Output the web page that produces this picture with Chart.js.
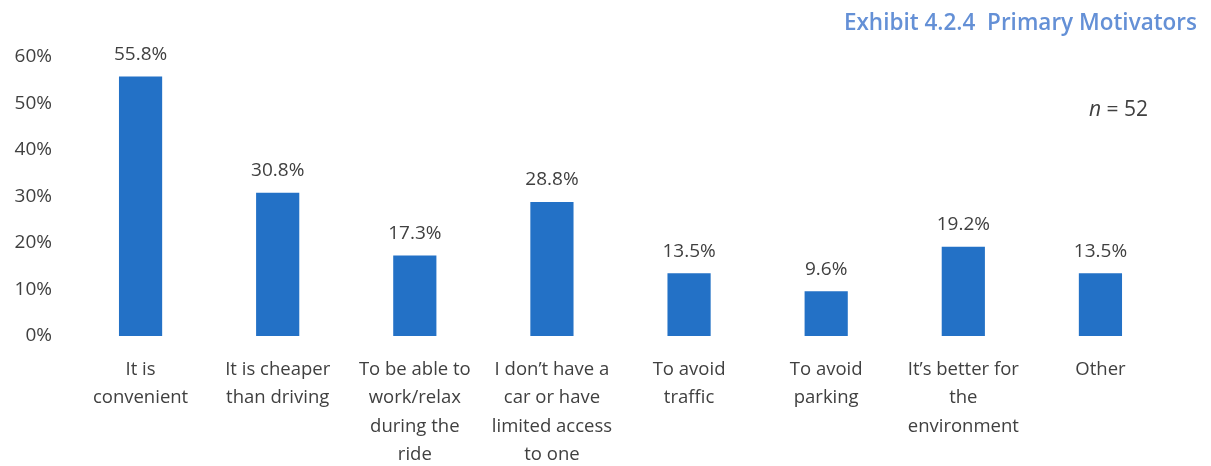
<!DOCTYPE html>
<html>
<head>
<meta charset="utf-8">
<script src="https://cdn.jsdelivr.net/npm/chart.js@4/dist/chart.umd.min.js"></script>
<style>
  html, body { margin: 0; padding: 0; background: #ffffff; }
  #wrap { width: 1211px; height: 466px; position: relative; }
</style>
</head>
<body>
<div id="wrap"><canvas id="chart" width="1211" height="466"></canvas></div>
<script>
// Survey responses: primary motivators (share of respondents, %)
const categories = [
  ["It is", "convenient"],
  ["It is cheaper", "than driving"],
  ["To be able to", "work/relax", "during the", "ride"],
  ["I don\u2019t have a", "car or have", "limited access", "to one"],
  ["To avoid", "traffic"],
  ["To avoid", "parking"],
  ["It\u2019s better for", "the", "environment"],
  ["Other"]
];
const shares = [55.8, 30.8, 17.3, 28.8, 13.5, 9.6, 19.2, 13.5];
const yTicks = [0, 10, 20, 30, 40, 50, 60];
const titleText = "Exhibit 4.2.4  Primary Motivators";
const sampleNote = "52";

const FONT = "'Open Sans', 'Liberation Sans', sans-serif";
const TEXT = "#404040";

// Percentage labels above each bar
const valueLabels = {
  id: 'valueLabels',
  afterDatasetsDraw(chart) {
    const ctx = chart.ctx;
    const meta = chart.getDatasetMeta(0);
    ctx.save();
    ctx.font = "19px " + FONT;
    ctx.fillStyle = TEXT;
    ctx.textAlign = 'center';
    ctx.textBaseline = 'middle';
    meta.data.forEach((bar, i) => {
      ctx.fillText(shares[i].toFixed(1) + '%', bar.x, bar.y - 22);
    });
    ctx.restore();
  }
};

// Exhibit heading and sample size note
const headerNotes = {
  id: 'headerNotes',
  afterDraw(chart) {
    const ctx = chart.ctx;
    ctx.save();
    ctx.textBaseline = 'middle';
    ctx.textAlign = 'right';
    ctx.font = "600 22.5px " + FONT;
    ctx.fillStyle = "#6490d6";
    ctx.fillText(titleText, 1197, 24);

    ctx.font = "21px " + FONT;
    ctx.fillStyle = TEXT;
    const rest = " = " + sampleNote;
    const restW = ctx.measureText(rest).width;
    ctx.fillText(rest, 1148, 110);
    ctx.font = "italic 21px " + FONT;
    ctx.fillText("n", 1148 - restW, 110);
    ctx.restore();
  }
};

new Chart(document.getElementById('chart'), {
  type: 'bar',
  data: {
    labels: categories,
    datasets: [{
      data: shares,
      backgroundColor: '#2371c6',
      borderWidth: 0,
      barPercentage: 0.63,
      categoryPercentage: 0.5
    }]
  },
  options: {
    responsive: false,
    animation: false,
    layout: { padding: { top: 57, right: 42, left: 0, bottom: 0 } },
    plugins: {
      legend: { display: false },
      tooltip: { enabled: false },
      title: { display: false }
    },
    scales: {
      x: {
        grid: { display: false, drawTicks: false },
        border: { display: false },
        ticks: {
          color: TEXT,
          font: { family: FONT, size: 18.5, lineHeight: 1.52 },
          padding: 20,
          maxRotation: 0,
          minRotation: 0,
          autoSkip: false
        },
        afterFit(scale) { scale.height = 130; }
      },
      y: {
        min: 0,
        max: 60,
        grid: { display: false, drawTicks: false },
        border: { display: false },
        afterBuildTicks(scale) {
          scale.ticks = yTicks.map(v => ({ value: v }));
        },
        ticks: {
          color: TEXT,
          font: { family: FONT, size: 19 },
          padding: 20,
          callback: v => v + '%'
        },
        afterFit(scale) { scale.width = 72; }
      }
    }
  },
  plugins: [valueLabels, headerNotes]
});
</script>
</body>
</html>
